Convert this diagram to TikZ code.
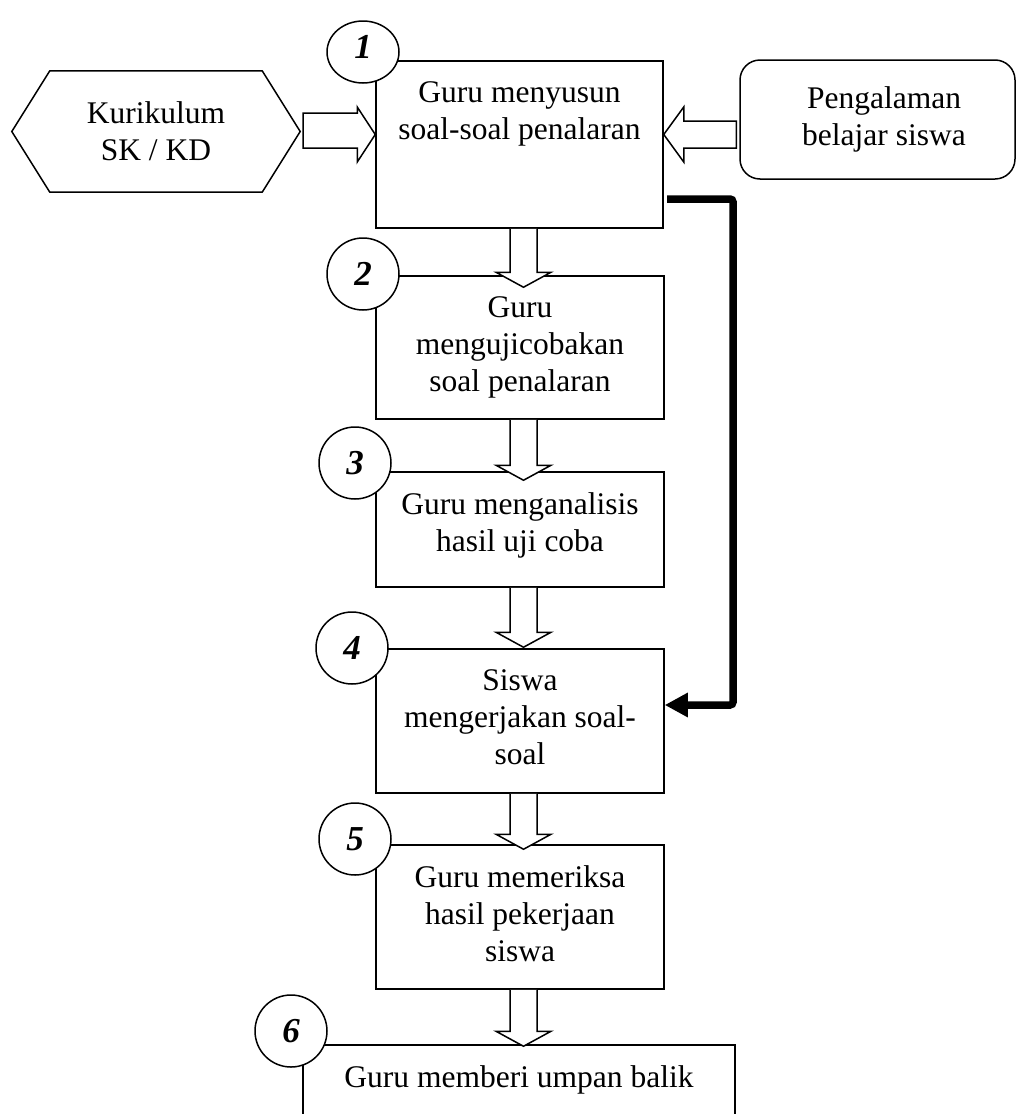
\documentclass[tikz,border=0pt]{standalone}
\usepackage{fontspec}
\setmainfont{Liberation Serif}
\usetikzlibrary{calc,arrows.meta,shapes.geometric}

% hollow block arrow pointing down from node #1 to node #2; #3 = how far the tip reaches below #2's top edge
\newcommand{\blockdown}[3]{%
  \draw[hollow] let \p1=(#1.south -| ax), \p2=(#2.north -| ax) in
    ({\x1-13.5pt},\y1) -- ({\x1-13.5pt},{\y2-(#3)*1pt+15pt}) -- ({\x1-27.5pt},{\y2-(#3)*1pt+15pt})
    -- (\x1,{\y2-(#3)*1pt}) -- ({\x1+27.5pt},{\y2-(#3)*1pt+15pt}) -- ({\x1+13.5pt},{\y2-(#3)*1pt+15pt})
    -- ({\x1+13.5pt},\y1);}

\begin{document}
\begin{tikzpicture}[x=1pt,y=-1pt,
  box/.style={draw, line width=1.5pt, inner sep=0pt},
  txt/.style={anchor=north, inner sep=0pt, align=center, font=\fontsize{31.5}{37}\selectfont},
  num/.style={draw, fill=white, line width=1.5pt, circle, minimum size=72pt, inner sep=0pt,
              font=\fontsize{35}{35}\selectfont\bfseries\itshape},
  hollow/.style={draw, fill=white, line width=1.5pt, line join=miter},
  feedback/.style={line width=7.5pt, rounded corners=3pt, -{Triangle[length=23pt,width=23pt]}}]
\useasboundingbox (0,0) rectangle (1017,1114);
\clip (0,0) rectangle (1017,1114);

% inputs
\node[inner sep=0pt, minimum width=288pt, minimum height=121pt, align=center,
      font=\fontsize{31.5}{37}\selectfont] (kur) at (156,131.5) {Kurikulum\\SK / KD};
\draw[line width=1.5pt] (kur.west) -- ([xshift=38pt]kur.north west) -- ([xshift=-38pt]kur.north east)
  -- (kur.east) -- ([xshift=-38pt]kur.south east) -- ([xshift=38pt]kur.south west) -- cycle;
\node[box, rounded corners=20pt, minimum width=275pt, minimum height=119pt] (peng) at (877.5,119.5) {};
\node[txt, anchor=center] (pengt) at (884,119) {Pengalaman\\belajar siswa};

% steps
\node[box, minimum width=287pt, minimum height=167pt] (b1) at (519.5,144.5) {};
\node[box, minimum width=288pt, minimum height=143pt] (b2) at (520,347.5) {};
\node[box, minimum width=288pt, minimum height=115pt] (b3) at (520,529.5) {};
\node[box, minimum width=288pt, minimum height=144pt] (b4) at (520,721) {};
\node[box, minimum width=288pt, minimum height=144pt] (b5) at (520,917) {};
\node[box, minimum width=432pt, minimum height=90pt] (b6) at (519,1090) {};

% block arrows
\coordinate (ax) at (523.5,0);
\coordinate (hy) at (0,134.5);
\draw[hollow] let \p1=(kur.east), \p2=(b1.west), \p3=(hy) in
  ({\x1+3pt},{\y3+21.5pt}) -- ({\x2-18pt},{\y3+21.5pt}) -- ({\x2-18pt},{\y3+27.5pt}) -- (\x2,\y3)
  -- ({\x2-18pt},{\y3-27.5pt}) -- ({\x2-18pt},{\y3-13.5pt}) -- ({\x1+3pt},{\y3-13.5pt}) -- cycle;
\draw[hollow] let \p1=(peng.west), \p2=(b1.east), \p3=(hy) in
  ({\x1-3pt},{\y3+13.5pt}) -- ({\x2+20pt},{\y3+13.5pt}) -- ({\x2+20pt},{\y3+27.5pt}) -- (\x2,\y3)
  -- ({\x2+20pt},{\y3-27.5pt}) -- ({\x2+20pt},{\y3-13.5pt}) -- ({\x1-3pt},{\y3-13.5pt}) -- cycle;
\blockdown{b1}{b2}{12}
\blockdown{b2}{b3}{9}
\blockdown{b3}{b4}{-1}
\blockdown{b4}{b5}{5}
\blockdown{b5}{b6}{2}

% step numbers
\node[num, ellipse, minimum width=72pt, minimum height=62pt, text depth=10pt] (n1) at (363,52) {1};
\node[num] (n2) at (363,274) {2};
\node[num] (n3) at (355,463) {3};
\node[num] (n4) at (352,648) {4};
\node[num] (n5) at (355,839) {5};
\node[num] (n6) at (291,1031) {6};

% feedback path from step 1 straight to step 4
\coordinate (fbA) at (667,199);
\coordinate (fbB) at (733,705);
\draw[feedback] (fbA) -| (fbB) -- (b4.east |- fbB);

% step texts
\node[txt] (t1) at (519.5,81) {Guru menyusun\\soal-soal penalaran};
\node[txt] (t2) at (520,296) {Guru\\mengujicobakan\\soal penalaran};
\node[txt] (t3) at (520,492) {Guru menganalisis\\hasil uji coba};
\node[txt] (t4) at (520,669) {Siswa\\mengerjakan soal-\\soal};
\node[txt] (t5) at (520,865) {Guru memeriksa\\hasil pekerjaan\\siswa};
\node[txt] (t6) at (519,1065) {Guru memberi umpan balik};
\end{tikzpicture}
\end{document}
